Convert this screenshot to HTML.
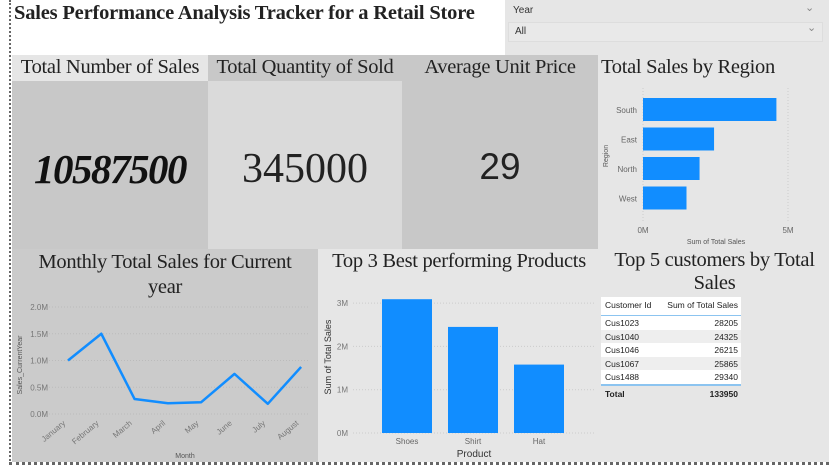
<!DOCTYPE html>
<html><head><meta charset="utf-8">
<style>
body{margin:0;width:829px;height:466px;overflow:hidden;background:#fff;position:relative;font-family:"Liberation Sans",sans-serif}
.abs{position:absolute}
.serif{font-family:"Liberation Serif",serif}
.hdr{font-family:"Liberation Serif",serif;font-size:20.5px;color:#222;text-align:center;white-space:nowrap;letter-spacing:-0.3px}
svg text{font-family:"Liberation Sans",sans-serif}
</style></head><body>
<div class="abs" style="left:9px;top:0;width:0;height:465px;border-left:2px dotted #666"></div>
<div class="abs" style="left:9px;top:462px;width:820px;height:0;border-top:3px dotted #666"></div>

<div class="abs serif" style="left:14px;top:2px;font-size:20.5px;font-weight:bold;color:#222;letter-spacing:-0.2px">Sales Performance Analysis Tracker for a Retail Store</div>

<div class="abs" style="left:505px;top:0;width:324px;height:55px;background:#e6e6e6">
  <div class="abs" style="left:8px;top:5px;font-size:10px;color:#333">Year</div>
  <div class="abs" style="left:300px;top:1px;font-size:11px;color:#888">&#8964;</div>
  <div class="abs" style="left:3px;top:22px;width:313px;height:18px;background:#e9e9e9;border:1px solid #ddd">
    <div class="abs" style="left:6px;top:3px;font-size:10px;color:#333">All</div>
    <div class="abs" style="left:298px;top:-2px;font-size:11px;color:#888">&#8964;</div>
  </div>
</div>

<!-- KPI cards -->
<div class="abs" style="left:12px;top:55px;width:196px;height:194px;background:#c8c8c8">
  <div class="abs hdr" style="left:0;top:0;width:196px;height:26px;background:#e6e6e6;line-height:24px">Total Number of Sales</div>
  <div class="abs serif" style="left:0;top:90px;width:196px;text-align:center;font-size:41px;font-weight:bold;font-style:italic;color:#111;letter-spacing:-1.5px">10587500</div>
</div>
<div class="abs" style="left:208px;top:55px;width:194px;height:194px;background:#dadada">
  <div class="abs hdr" style="left:0;top:0;width:194px;height:26px;background:#c8c8c8;line-height:24px">Total Quantity of Sold</div>
  <div class="abs serif" style="left:0;top:90px;width:194px;text-align:center;font-size:42px;color:#222">345000</div>
</div>
<div class="abs" style="left:402px;top:55px;width:196px;height:194px;background:#c8c8c8">
  <div class="abs hdr" style="left:0;top:0;width:196px;line-height:24px">Average Unit Price</div>
  <div class="abs" style="left:0;top:91px;width:196px;text-align:center;font-size:37px;color:#222">29</div>
</div>

<!-- Region chart -->
<div class="abs" style="left:598px;top:55px;width:231px;height:194px;background:#e6e6e6">
  <div class="abs hdr" style="left:3px;top:0;line-height:24px;text-align:left">Total Sales by Region</div>
</div>
<svg class="abs" style="left:0;top:0" width="829" height="466" id="regionSvg"></svg>

<!-- bottom row -->
<div class="abs" style="left:12px;top:249px;width:306px;height:213px;background:#cbcbcb">
  <div class="abs hdr" style="left:0;top:1px;width:306px;line-height:25px">Monthly Total Sales for Current<br>year</div>
</div>
<div class="abs" style="left:318px;top:249px;width:282px;height:213px;background:#e6e6e6">
  <div class="abs hdr" style="left:0;top:0;width:282px;line-height:24px">Top 3 Best performing Products</div>
</div>
<div class="abs" style="left:600px;top:249px;width:229px;height:213px;background:#e6e6e6">
  <div class="abs hdr" style="left:0;top:0;width:229px;line-height:23px">Top 5 customers by Total<br>Sales</div>
</div>

<div class="abs" style="left:601px;top:297px;width:140px;font-size:8.5px;color:#222">
  <div style="height:18px;background:#fff;border-bottom:1px solid #8cc4f0;position:relative">
    <span class="abs" style="left:4px;top:3px">Customer Id</span><span class="abs" style="right:3px;top:3px">Sum of Total Sales</span>
  </div>
  <div id="rows"></div>
  <div style="height:16px;border-top:2px solid #8cc4f0;position:relative;font-weight:bold">
    <span class="abs" style="left:4px;top:3px">Total</span><span class="abs" style="right:3px;top:3px">133950</span>
  </div>
</div>

<svg class="abs" style="left:0;top:0" width="829" height="466" id="botSvg"></svg>

<script>
const regions=["South","East","North","West"];
const regionSales=[4.6,2.45,1.95,1.5];
const months=["January","February","March","April","May","June","July","August"];
const monthSales=[1.0,1.5,0.28,0.2,0.22,0.75,0.19,0.88];
const monthTicks=[0,0.5,1.0,1.5,2.0];
const products=["Shoes","Shirt","Hat"];
const productSales=[3.09,2.45,1.58];
const productTicks=[0,1,2,3];
const customers=["Cus1023","Cus1040","Cus1046","Cus1067","Cus1488"];
const custSales=[28205,24325,26215,25865,29340];

const NS="http://www.w3.org/2000/svg";
function mk(svg,tag,attrs,txt){const e=document.createElementNS(NS,tag);for(const k in attrs)e.setAttribute(k,attrs[k]);if(txt!==undefined)e.textContent=txt;svg.appendChild(e);return e;}

// region chart
const rs=document.getElementById('regionSvg');
const rx=v=>643+v*(145/5);
const ry=i=>98+i*29.5;
[0,5].forEach(t=>{const g=mk(rs,'line',{x1:rx(t),x2:rx(t),y1:88,y2:222,stroke:'#ccc','stroke-dasharray':'1,2'});

const l=mk(rs,'text',{x:rx(t),y:233,'font-size':8,fill:'#666','text-anchor':'middle'},t+'M');
});
regions.forEach((r,i)=>{const b=mk(rs,'rect',{x:rx(0),y:ry(i),width:rx(regionSales[i])-rx(0),height:23,fill:'#118dff'});

const l=mk(rs,'text',{x:637,y:ry(i)+15,'font-size':8,fill:'#666','text-anchor':'end'},r);
});
let t1=mk(rs,'text',{x:716,y:244,'font-size':7,fill:'#555','text-anchor':'middle'},'Sum of Total Sales');

let t2=mk(rs,'text',{x:608,y:156,'font-size':7,fill:'#555','text-anchor':'middle',transform:'rotate(-90 608 156)'},'Region');


// line chart
const bs=document.getElementById('botSvg');
const mx=i=>68+i*33.3;
const my=v=>414-v*53.5;
monthTicks.forEach(t=>{const g=mk(bs,'line',{x1:40,x2:310,y1:my(t),y2:my(t),stroke:'#bbb','stroke-dasharray':'1,2'});

const l=mk(bs,'text',{x:48,y:my(t)+3,'font-size':8,fill:'#777','text-anchor':'end'},t.toFixed(1)+'M');
});
const line=mk(bs,'polyline',{points:monthSales.map((v,i)=>mx(i)+','+my(v)).join(' '),fill:'none',stroke:'#118dff','stroke-width':2.5,'stroke-linejoin':'round'});

months.forEach((m,i)=>{const x=mx(i)-2,y=424;const l=mk(bs,'text',{x:x,y:y,'font-size':8,fill:'#777','text-anchor':'end',transform:`rotate(-40 ${x} ${y})`},m);
});
let t3=mk(bs,'text',{x:185,y:458,'font-size':7,fill:'#555','text-anchor':'middle'},'Month');

let t4=mk(bs,'text',{x:22,y:365,'font-size':7,fill:'#555','text-anchor':'middle',transform:'rotate(-90 22 365)'},'Sales_CurrentYear');


// product chart
const px=i=>382+i*66;
const py=v=>433-v*43.3;
productTicks.forEach(t=>{const g=mk(bs,'line',{x1:353,x2:595,y1:py(t),y2:py(t),stroke:'#ccc','stroke-dasharray':'1,2'});

const l=mk(bs,'text',{x:348,y:py(t)+3,'font-size':8,fill:'#777','text-anchor':'end'},t+'M');
});
products.forEach((p,i)=>{const b=mk(bs,'rect',{x:px(i),y:py(productSales[i]),width:50,height:py(0)-py(productSales[i]),fill:'#118dff'});

const l=mk(bs,'text',{x:px(i)+25,y:444,'font-size':8,fill:'#666','text-anchor':'middle'},p);
});
let t5=mk(bs,'text',{x:474,y:457,'font-size':10,fill:'#333','text-anchor':'middle'},'Product');

let t6=mk(bs,'text',{x:331,y:357,'font-size':9,fill:'#333','text-anchor':'middle',transform:'rotate(-90 331 357)'},'Sum of Total Sales');


// table rows
const rowsEl=document.getElementById('rows');
customers.forEach((c,i)=>{const d=document.createElement('div');


d.style.cssText='height:13.6px;position:relative;background:'+(i%2?'#eeeeee':'#fff');
d.innerHTML='<span class="abs" style="left:4px;top:2px">'+c+'</span><span class="abs" style="right:3px;top:2px">'+custSales[i]+'</span>';
rowsEl.appendChild(d);});
</script>
</body></html>
